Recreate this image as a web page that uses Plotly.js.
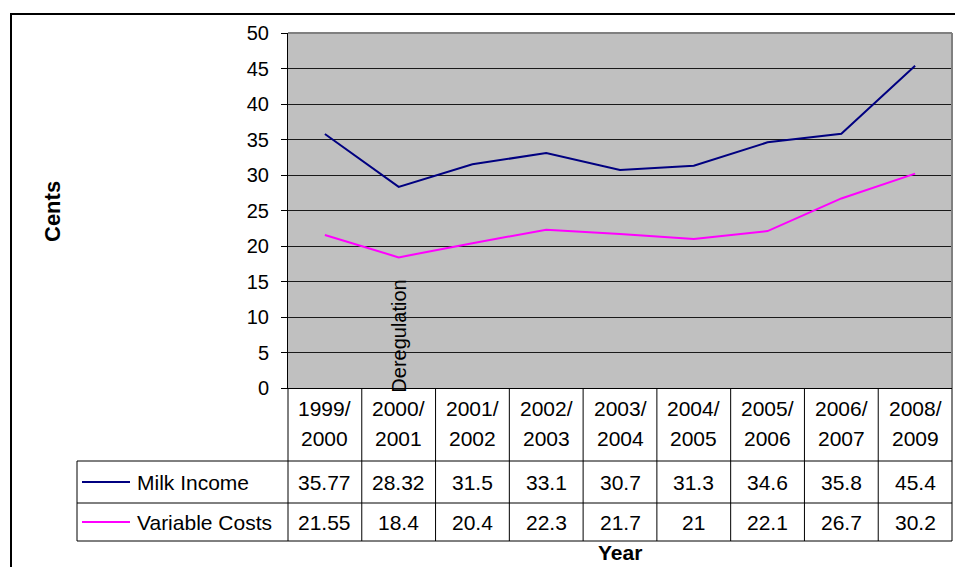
<!DOCTYPE html>
<html>
<head>
<meta charset="utf-8">
<script src="https://cdn.plot.ly/plotly-3.0.1.min.js"></script>
<style>
html,body{margin:0;padding:0;background:#fff;}
#chart{width:955px;height:567px;}
</style>
</head>
<body>
<div id="chart"></div>
<script>
// ---- data ----
var categories = ["1999/2000","2000/2001","2001/2002","2002/2003","2003/2004","2004/2005","2005/2006","2006/2007","2008/2009"];
var milkIncome = [35.77, 28.32, 31.5, 33.1, 30.7, 31.3, 34.6, 35.8, 45.4];
var variableCosts = [21.55, 18.4, 20.4, 22.3, 21.7, 21, 22.1, 26.7, 30.2];
var seriesNames = ["Milk Income", "Variable Costs"];
var seriesColors = ["#000080", "#FF00FF"];
var yTitle = "Cents";
var xTitle = "Year";
var noteText = "Deregulation";
var noteIndex = 1;

// ---- layout helpers (pixel -> paper) ----
var W = 955, H = 567;
var L = 288, R = 952, T = 33, B = 388;
function X(px){ return (px - L) / (R - L); }
function Y(py){ return (B - py) / (B - T); }

var FONT = "Liberation Sans, Arial, Helvetica, sans-serif";
var TXT = 21;
var idx = categories.map(function(_, i){ return i; });

var traces = [
  {x: idx, y: milkIncome, type: "scatter", mode: "lines", name: seriesNames[0],
   line: {color: seriesColors[0], width: 2}, showlegend: false, hoverinfo: "skip"},
  {x: idx, y: variableCosts, type: "scatter", mode: "lines", name: seriesNames[1],
   line: {color: seriesColors[1], width: 2}, showlegend: false, hoverinfo: "skip"}
];

var shapes = [];
var annotations = [];
var n = categories.length;

// outer chart border
shapes.push({type: "rect", xref: "paper", yref: "paper", x0: X(11), x1: X(975), y0: Y(600), y1: Y(14),
  line: {color: "#000", width: 2}, fillcolor: "rgba(0,0,0,0)"});
// plot area top/right border (gray)
shapes.push({type: "line", xref: "paper", yref: "paper", x0: 0, x1: 1, y0: 1, y1: 1, line: {color: "#808080", width: 2}});
shapes.push({type: "line", xref: "paper", yref: "paper", x0: 1, x1: 1, y0: 0, y1: 1, line: {color: "#808080", width: 2}});

// table lines
var rowTop = 388, rowHdr = 461, rowMilk = 503, rowCost = 541, tableLeft = 77;
for (var i = 0; i <= n; i++) {
  shapes.push({type: "line", xref: "paper", yref: "paper", x0: i / n, x1: i / n, y0: Y(rowTop), y1: Y(rowCost),
    line: {color: "#000", width: 1}});
}
shapes.push({type: "line", xref: "paper", yref: "paper", x0: X(tableLeft), x1: X(tableLeft), y0: Y(rowHdr), y1: Y(rowCost),
  line: {color: "#000", width: 1}});
[rowHdr, rowMilk, rowCost].forEach(function(py){
  shapes.push({type: "line", xref: "paper", yref: "paper", x0: X(tableLeft), x1: 1, y0: Y(py), y1: Y(py),
    line: {color: "#000", width: 1}});
});

// legend keys inside the table
var rowCenters = [482, 522];
var seriesData = [milkIncome, variableCosts];
for (var s = 0; s < 2; s++) {
  shapes.push({type: "line", xref: "paper", yref: "paper", x0: X(82), x1: X(130), y0: Y(rowCenters[s]), y1: Y(rowCenters[s]),
    line: {color: seriesColors[s], width: 2}});
  annotations.push({xref: "paper", yref: "paper", x: X(135), y: Y(rowCenters[s]), xanchor: "left", yanchor: "middle",
    text: seriesNames[s], showarrow: false, font: {family: FONT, size: TXT, color: "#000"}});
}

// header cells and values
categories.forEach(function(c, i){
  var parts = c.split("/");
  annotations.push({xref: "x", yref: "paper", x: i, y: Y(408), xanchor: "center", yanchor: "middle",
    text: parts[0] + "/", showarrow: false, font: {family: FONT, size: TXT, color: "#000"}});
  annotations.push({xref: "x", yref: "paper", x: i, y: Y(438), xanchor: "center", yanchor: "middle",
    text: parts[1], showarrow: false, font: {family: FONT, size: TXT, color: "#000"}});
  for (var s = 0; s < 2; s++) {
    annotations.push({xref: "x", yref: "paper", x: i, y: Y(rowCenters[s]), xanchor: "center", yanchor: "middle",
      text: String(seriesData[s][i]), showarrow: false, font: {family: FONT, size: TXT, color: "#000"}});
  }
});

// axis titles
annotations.push({xref: "paper", yref: "paper", x: X(52), y: Y(212), xanchor: "center", yanchor: "middle",
  text: "<b>" + yTitle + "</b>", textangle: -90, showarrow: false, font: {family: FONT, size: 22, color: "#000"}});
annotations.push({xref: "paper", yref: "paper", x: 0.5, y: Y(552), xanchor: "center", yanchor: "middle",
  text: "<b>" + xTitle + "</b>", showarrow: false, font: {family: FONT, size: 21, color: "#000"}});

// deregulation note
annotations.push({xref: "x", yref: "paper", x: noteIndex, y: Y(336), xanchor: "center", yanchor: "middle",
  text: noteText, textangle: -90, showarrow: false, font: {family: FONT, size: 20, color: "#000"}});

var layout = {
  width: W, height: H,
  margin: {l: L, r: W - R, t: T, b: H - B, pad: 0},
  paper_bgcolor: "#ffffff",
  plot_bgcolor: "#C0C0C0",
  showlegend: false,
  font: {family: FONT, size: 20, color: "#000"},
  xaxis: {range: [-0.5, n - 0.5], showticklabels: false, showgrid: false, zeroline: false,
    showline: true, linecolor: "#000", linewidth: 1, ticks: "", fixedrange: true},
  yaxis: {range: [0, 50], dtick: 5, tick0: 0, ticks: "outside", ticklen: 6, tickcolor: "#000", tickwidth: 1,
    showline: true, linecolor: "#000", linewidth: 1, showgrid: true, gridcolor: "#1a1a1a", gridwidth: 1,
    zeroline: false, tickfont: {family: FONT, size: 20, color: "#000"}, ticklabelstandoff: 8, fixedrange: true},
  shapes: shapes,
  annotations: annotations
};

Plotly.newPlot("chart", traces, layout, {displayModeBar: false, staticPlot: true});
</script>
</body>
</html>
